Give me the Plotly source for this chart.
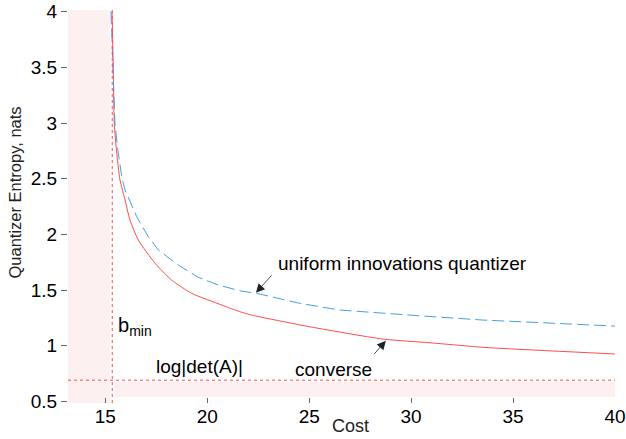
import plotly.graph_objects as go

# ---- data ----
converse_cost = [15.33, 15.36, 15.39, 15.44, 15.55, 15.72, 15.97, 16.21, 16.62, 17.44,
                 18.25, 19.24, 20.71, 21.60, 22.18, 24.87, 28.63, 30.92, 33.53, 35.0, 40.0]
converse_H = [4.0, 3.75, 3.5, 3.0, 2.75, 2.488, 2.308, 2.128, 1.949, 1.740,
              1.590, 1.470, 1.365, 1.305, 1.275, 1.175, 1.059, 1.026, 0.985, 0.970, 0.925]

uniform_cost = [15.28, 15.32, 15.36, 15.47, 15.62, 15.82, 15.97, 16.54, 17.11, 17.60,
                18.58, 19.56, 20.54, 21.60, 22.42, 24.54, 26.50, 28.63, 30.59, 33.53, 40.0]
uniform_H = [4.0, 3.75, 3.5, 3.0, 2.75, 2.5, 2.398, 2.158, 1.979, 1.859,
             1.724, 1.614, 1.545, 1.493, 1.470, 1.380, 1.320, 1.290, 1.266, 1.23, 1.176]

b_min = 15.34
log_det_A = 0.69

x_ticks = [15, 20, 25, 30, 35, 40]
y_ticks = [0.5, 1, 1.5, 2, 2.5, 3, 3.5, 4]
y_tick_labels = ["0.5", "1", "1.5", "2", "2.5", "3", "3.5", "4"]

x_range = [13.17, 40.0]
y_range = [0.485, 4.015]

FONT = "Liberation Sans, Arial, Helvetica, sans-serif"
SHADE = "#fdf0f0"
RED = "#ff4b4b"
BLUE = "#4a9fdc"

fig = go.Figure()

fig.add_trace(go.Scatter(x=converse_cost, y=converse_H, mode="lines",
                         line=dict(color=RED, width=1, shape="spline", smoothing=0.6),
                         showlegend=False, hoverinfo="skip"))
fig.add_trace(go.Scatter(x=uniform_cost, y=uniform_H, mode="lines",
                         line=dict(color=BLUE, width=1, dash="12px,5px"),
                         showlegend=False, hoverinfo="skip"))

# shaded regions (infeasible)
fig.add_shape(type="rect", xref="x", yref="paper", x0=x_range[0], x1=b_min - 0.1,
              y0=0, y1=1, fillcolor=SHADE, line_width=0, layer="below")
fig.add_shape(type="rect", xref="x", yref="y", x0=b_min + 0.13, x1=x_range[1],
              y0=0.54, y1=log_det_A - 0.015, fillcolor=SHADE, line_width=0, layer="below")
# dotted bounds
fig.add_shape(type="line", xref="x", yref="paper", x0=b_min, x1=b_min, y0=0, y1=1,
              line=dict(color=RED, width=1, dash="dot"))
fig.add_shape(type="line", xref="paper", yref="y", x0=0, x1=1, y0=log_det_A, y1=log_det_A,
              line=dict(color=RED, width=1, dash="dot"))

ann_font = dict(family=FONT, size=19, color="black")
annotations = [
    dict(x=29.57, y=1.742, xref="x", yref="y", text="uniform innovations quantizer",
         showarrow=False, font=ann_font, xanchor="center", yanchor="middle"),
    dict(x=26.19, y=0.789, xref="x", yref="y", text="converse",
         showarrow=False, font=ann_font, xanchor="center", yanchor="middle"),
    dict(x=19.62, y=0.817, xref="x", yref="y", text="log|det(A)|",
         showarrow=False, font=ann_font, xanchor="center", yanchor="middle"),
    dict(x=15.54, y=1.17, xref="x", yref="y", text="b<sub>min</sub>",
         showarrow=False, font=dict(family=FONT, size=20, color="black"),
         xanchor="left", yanchor="middle"),
    # arrows
    dict(x=22.39, y=1.475, xref="x", yref="y", text="", showarrow=True,
         ax=17, ay=-19, arrowhead=2, arrowsize=2.2, arrowwidth=0.8, arrowcolor="#222"),
    dict(x=28.76, y=1.045, xref="x", yref="y", text="", showarrow=True,
         ax=-13, ay=15, arrowhead=2, arrowsize=2.2, arrowwidth=0.8, arrowcolor="#222"),
    # axis titles
    dict(x=0.517, y=-0.0595, xref="paper", yref="paper", text="Cost", showarrow=False,
         font=dict(family=FONT, size=18, color="#222"), xanchor="center", yanchor="middle"),
    dict(x=-0.0975, y=0.5347, xref="paper", yref="paper", text="Quantizer Entropy, nats",
         showarrow=False, textangle=-90,
         font=dict(family=FONT, size=16.5, color="#222"), xanchor="center", yanchor="middle"),
]

fig.update_layout(
    width=626, height=439,
    margin=dict(l=68, r=11, t=10, b=36, autoexpand=False),
    paper_bgcolor="white", plot_bgcolor="white",
    font=dict(family=FONT, size=19, color="black"),
    annotations=annotations,
    showlegend=False,
)
fig.update_xaxes(range=x_range, tickvals=x_ticks, ticks="inside", ticklen=5,
                 tickcolor="#666", showgrid=False, zeroline=False, showline=False,
                 automargin=False,
                 tickfont=dict(family=FONT, size=19, color="black"))
fig.update_yaxes(range=y_range, tickvals=y_ticks, ticktext=y_tick_labels, ticks="outside",
                 ticklen=6, tickcolor="#666", showgrid=False, zeroline=False, showline=False,
                 automargin=False,
                 tickfont=dict(family=FONT, size=19, color="black"))

fig.write_html("out.html", config={"displayModeBar": False},
               post_script="document.body.style.margin='0';document.body.style.overflow='hidden';")
